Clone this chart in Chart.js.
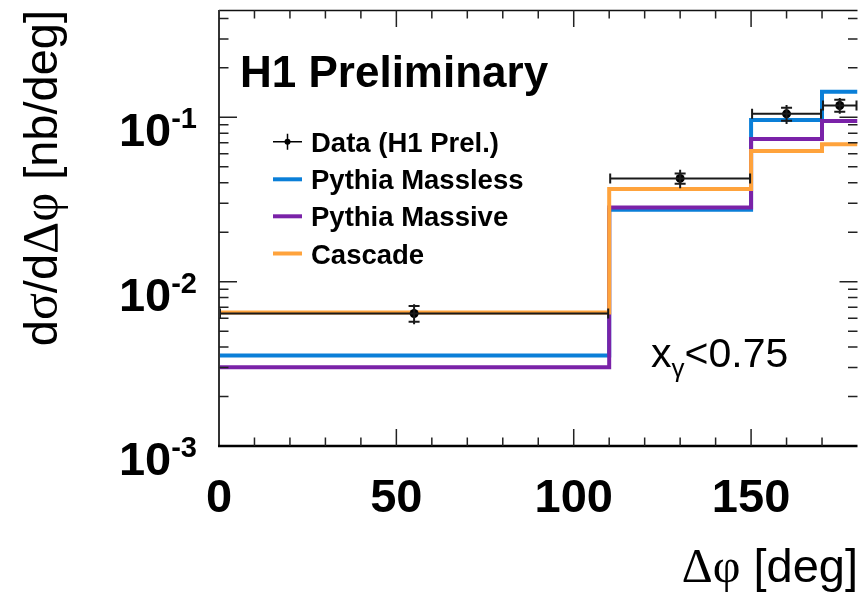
<!DOCTYPE html>
<html>
<head>
<meta charset="utf-8">
<script src="https://cdn.jsdelivr.net/npm/chart.js@4.4.1/dist/chart.umd.min.js"></script>
<style>
  html, body { margin: 0; padding: 0; background: #fff; }
  #wrap { width: 862px; height: 601px; }
</style>
</head>
<body>
<div id="wrap"><canvas id="c" width="862" height="601"></canvas></div>
<script>
// bins in delta phi [deg]
const binEdges = [0, 110, 150, 170, 180];
const dataCenters = [55, 130, 160, 175];

// H1 data
const dataValues = [0.0064, 0.0425, 0.105, 0.118];
const dataStatErr = [0.0007, 0.003, 0.0095, 0.010];
const dataTotErr = [0.0009, 0.0055, 0.014, 0.013];

// models
const masslessValues = [0.00356, 0.0274, 0.0963, 0.1433];
const massiveValues = [0.00301, 0.0283, 0.0738, 0.0949];
const cascadeValues = [0.0065, 0.0366, 0.0623, 0.0687];

const seriesNames = ['Data (H1 Prel.)', 'Pythia Massless', 'Pythia Massive', 'Cascade'];
const seriesColors = ['#000000', '#0a7fd8', '#7a22a8', '#ffa33c'];

const xTickValues = [0, 50, 100, 150];
const yTickValues = [0.001, 0.01, 0.1];
const yTickExponents = ['-3', '-2', '-1'];

const SANS = '"Liberation Sans", Arial, Helvetica, sans-serif';
const SERIF = '"Liberation Serif", "Times New Roman", serif';

function histPoints(vals) {
    return binEdges.map((e, i) => ({ x: e, y: vals[Math.min(i, vals.length - 1)] }));
}

function drawRuns(ctx, runs, x, y, align) {
    let total = 0;
    runs.forEach(r => { ctx.font = r.font; total += ctx.measureText(r.text).width; });
    let cx = align === 'right' ? x - total : (align === 'center' ? x - total / 2 : x);
    runs.forEach(r => {
        ctx.font = r.font;
        ctx.fillText(r.text, cx, y + (r.dy || 0));
        cx += ctx.measureText(r.text).width;
    });
}

const rootStyle = {
    id: 'rootStyle',
    afterDatasetsDraw(chart) {
        const ctx = chart.ctx;
        const xs = chart.scales.x, ys = chart.scales.y;

        // error bars
        ctx.save();
        ctx.strokeStyle = '#1a1a1a';
        ctx.lineWidth = 2;
        dataValues.forEach((v, i) => {
            const px = xs.getPixelForValue(dataCenters[i]);
            const py = ys.getPixelForValue(v);
            const x0 = xs.getPixelForValue(binEdges[i]);
            const x1 = xs.getPixelForValue(binEdges[i + 1]);
            ctx.beginPath();
            ctx.moveTo(x0, py); ctx.lineTo(x1, py);
            ctx.moveTo(x0 + 1, py - 5); ctx.lineTo(x0 + 1, py + 5);
            ctx.moveTo(x1 - 1, py - 5); ctx.lineTo(x1 - 1, py + 5);
            ctx.moveTo(px, ys.getPixelForValue(v + dataTotErr[i]));
            ctx.lineTo(px, ys.getPixelForValue(v - dataTotErr[i]));
            [v + dataStatErr[i], v - dataStatErr[i]].forEach(e => {
                const ey = ys.getPixelForValue(e);
                ctx.moveTo(px - 5.5, ey); ctx.lineTo(px + 5.5, ey);
            });
            ctx.stroke();
        });
        ctx.restore();
    },
    afterDraw(chart) {
        const ctx = chart.ctx;
        const xs = chart.scales.x, ys = chart.scales.y;
        const a = chart.chartArea;
        ctx.save();

        // frame (right edge is cut off in the original)
        ctx.strokeStyle = '#111';
        ctx.lineWidth = 1.5;
        ctx.beginPath();
        ctx.moveTo(a.left, a.top + 0.5); ctx.lineTo(a.right, a.top + 0.5);
        ctx.stroke();
        ctx.strokeStyle = '#333';
        ctx.lineWidth = 2;
        ctx.beginPath();
        ctx.moveTo(a.left, a.top); ctx.lineTo(a.left, a.bottom);
        ctx.stroke();
        ctx.strokeStyle = '#000';
        ctx.lineWidth = 2.5;
        ctx.beginPath();
        ctx.moveTo(a.left - 1, a.bottom); ctx.lineTo(a.right, a.bottom);
        ctx.stroke();

        // x ticks, inside, top and bottom
        ctx.strokeStyle = '#222';
        ctx.lineWidth = 1.5;
        ctx.beginPath();
        for (let d = 10; d < 180; d += 10) {
            const px = xs.getPixelForValue(d);
            const len = d % 50 === 0 ? 17 : 8.5;
            ctx.moveTo(px, a.bottom); ctx.lineTo(px, a.bottom - len);
            ctx.moveTo(px, a.top); ctx.lineTo(px, a.top + len);
        }
        // y ticks, inside, left and right
        for (let dec = -3; dec <= -1; dec++) {
            for (let k = 1; k <= 9; k++) {
                const v = k * Math.pow(10, dec);
                if (v > ys.max || v <= ys.min) continue;
                const py = ys.getPixelForValue(v);
                const len = k === 1 ? 18 : 9.5;
                ctx.moveTo(a.left, py); ctx.lineTo(a.left + len, py);
                ctx.moveTo(a.right, py); ctx.lineTo(a.right - len, py);
            }
        }
        ctx.stroke();

        ctx.fillStyle = '#000';
        ctx.textBaseline = 'alphabetic';

        // x tick labels
        ctx.textAlign = 'center';
        ctx.font = 'bold 47px ' + SANS;
        xTickValues.forEach(t => {
            ctx.fillText(String(t), xs.getPixelForValue(t), 512);
        });

        // y tick labels 10^n
        ctx.textAlign = 'left';
        yTickValues.forEach((t, i) => {
            const py = ys.getPixelForValue(t);
            drawRuns(ctx, [
                { text: '10', font: 'bold 47px ' + SANS },
                { text: yTickExponents[i], font: 'bold 29px ' + SANS, dy: -18 }
            ], 197, py + 29, 'right');
        });

        // axis titles
        drawRuns(ctx, [
            { text: '\u0394\u03c6', font: '48px ' + SERIF },
            { text: ' [deg]', font: '47px ' + SANS }
        ], 858, 582, 'right');

        ctx.save();
        ctx.translate(57, 10);
        ctx.rotate(-Math.PI / 2);
        drawRuns(ctx, [
            { text: 'd', font: '47px ' + SANS },
            { text: '\u03c3', font: '50px ' + SERIF },
            { text: '/d', font: '47px ' + SANS },
            { text: '\u0394\u03c6', font: '50px ' + SERIF },
            { text: ' [nb/deg]', font: '47px ' + SANS }
        ], 0, 0, 'right');
        ctx.restore();

        // H1 Preliminary
        ctx.font = 'bold 44px ' + SANS;
        ctx.fillText('H1 Preliminary', 240, 87);

        // x_gamma < 0.75
        drawRuns(ctx, [
            { text: 'x', font: '41px ' + SANS },
            { text: '\u03b3', font: '26px ' + SANS, dy: 10 },
            { text: '<0.75', font: '41px ' + SANS }
        ], 651, 367, 'left');

        // legend
        const rows = [141.7, 179.3, 216.3, 253.5];
        const lx0 = 273, lx1 = 302;
        seriesNames.forEach((name, i) => {
            const ry = rows[i];
            if (i === 0) {
                ctx.strokeStyle = '#000';
                ctx.lineWidth = 1.5;
                ctx.beginPath();
                ctx.moveTo(lx0, ry); ctx.lineTo(lx1, ry);
                ctx.moveTo((lx0 + lx1) / 2, ry - 8); ctx.lineTo((lx0 + lx1) / 2, ry + 8);
                ctx.stroke();
                ctx.beginPath();
                ctx.arc((lx0 + lx1) / 2, ry, 3, 0, Math.PI * 2);
                ctx.fill();
            } else {
                ctx.strokeStyle = seriesColors[i];
                ctx.lineWidth = 4;
                ctx.beginPath();
                ctx.moveTo(lx0, ry); ctx.lineTo(lx1, ry);
                ctx.stroke();
            }
            ctx.fillStyle = '#000';
            ctx.font = 'bold 27.5px ' + SANS;
            ctx.fillText(name, 311, ry + 10);
        });

        ctx.restore();
    }
};

new Chart(document.getElementById('c'), {
    type: 'line',
    data: {
        datasets: [
            {
                label: seriesNames[0],
                data: dataCenters.map((x, i) => ({ x: x, y: dataValues[i] })),
                showLine: false,
                pointRadius: 4.5,
                pointBackgroundColor: '#000',
                pointBorderWidth: 0,
                order: 1
            },
            {
                label: seriesNames[1],
                data: histPoints(masslessValues),
                stepped: 'before',
                borderColor: seriesColors[1],
                borderWidth: 4,
                pointRadius: 0,
                fill: false,
                order: 4
            },
            {
                label: seriesNames[2],
                data: histPoints(massiveValues),
                stepped: 'before',
                borderColor: seriesColors[2],
                borderWidth: 4,
                pointRadius: 0,
                fill: false,
                order: 3
            },
            {
                label: seriesNames[3],
                data: histPoints(cascadeValues),
                stepped: 'before',
                borderColor: seriesColors[3],
                borderWidth: 4,
                pointRadius: 0,
                fill: false,
                order: 2
            }
        ]
    },
    options: {
        responsive: false,
        animation: false,
        devicePixelRatio: 1,
        layout: { padding: { left: 219, top: 10, right: 0, bottom: 155 } },
        plugins: { legend: { display: false }, tooltip: { enabled: false } },
        scales: {
            x: { type: 'linear', min: 0, max: 180, display: false },
            y: { type: 'logarithmic', min: 0.001, max: 0.45, display: false }
        }
    },
    plugins: [rootStyle]
});
</script>
</body>
</html>
